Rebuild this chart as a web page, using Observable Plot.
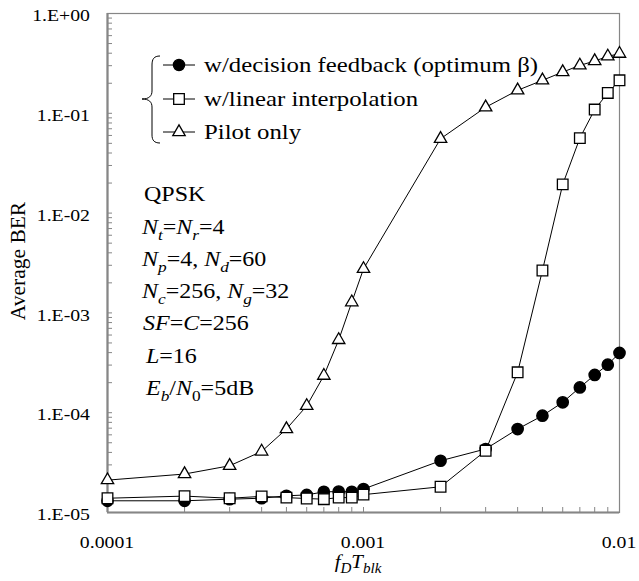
<!DOCTYPE html>
<html><head><meta charset="utf-8">
<script src="https://cdn.jsdelivr.net/npm/d3@7"></script>
<script src="https://cdn.jsdelivr.net/npm/@observablehq/plot@0.6"></script>
<style>body{margin:0;background:#fff} svg{font-family:"Liberation Serif","Times New Roman",serif}</style>
</head><body><div id="chart"></div>
<script>
// ---- data ----
const fdT = [0.0001,0.0002,0.0003,0.0004,0.0005,0.0006,0.0007,0.0008,0.0009,0.001,0.002,0.003,0.004,0.005,0.006,0.007,0.008,0.009,0.01];
const berDecision = [1.31e-5,1.31e-5,1.36e-5,1.39e-5,1.47e-5,1.5e-5,1.61e-5,1.62e-5,1.61e-5,1.72e-5,3.3e-5,4.33e-5,6.86e-5,9.33e-5,1.27e-4,1.79e-4,2.39e-4,3.03e-4,3.97e-4];
const berLinear = [1.39e-5,1.46e-5,1.39e-5,1.45e-5,1.41e-5,1.38e-5,1.36e-5,1.41e-5,1.41e-5,1.51e-5,1.81e-5,4.16e-5,2.54e-4,2.66e-3,1.94e-2,5.64e-2,0.109,0.160,0.214];
const berPilot = [2.11e-5,2.43e-5,2.94e-5,4.09e-5,6.86e-5,1.17e-4,2.35e-4,5.36e-4,1.28e-3,2.76e-3,5.56e-2,0.115,0.170,0.214,0.259,0.302,0.334,0.372,0.396];
const seriesNames = ["w/decision feedback (optimum β)","w/linear interpolation","Pilot only"];
const yTickValues = [1e-5,1e-4,1e-3,1e-2,1e-1,1];
const yTickLabels = ["1.E-05","1.E-04","1.E-03","1.E-02","1.E-01","1.E+00"];
const xTickValues = [0.0001,0.001,0.01];
const xTickLabels = ["0.0001","0.001","0.01"];

const rows = (vals) => fdT.map((x,i)=>({x, y: vals[i]}));
const dec = rows(berDecision), lin = rows(berLinear), pil = rows(berPilot);
const minorY = d3.scaleLog().domain([1e-5,1]).ticks();
const minorX = d3.scaleLog().domain([1e-4,1e-2]).ticks();
const GRAY = "#868686";

const chart = Plot.plot({
  width: 639, height: 581,
  marginLeft: 107, marginRight: 20, marginTop: 13, marginBottom: 69,
  x: {type: "log", domain: [1e-4, 1e-2]},
  y: {type: "log", domain: [1e-5, 1]},
  style: {fontFamily: "Liberation Serif, Times New Roman, serif", fontSize: "17px", color: "#000", background: "#fff"},
  marks: [
    Plot.axisY(minorY, {tickSize: -5, stroke: GRAY, text: null, label: null}),
    Plot.axisX(minorX, {tickSize: -5, stroke: GRAY, text: null, label: null}),
    Plot.frame({stroke: GRAY, strokeWidth: 1.2}),
    Plot.ruleX([1e-4], {stroke: GRAY, strokeWidth: 2.2}),
    Plot.ruleY([1e-5], {stroke: GRAY, strokeWidth: 2.2}),
    Plot.line(dec, {x: "x", y: "y", stroke: "#000", strokeWidth: 1}),
    Plot.dot(dec, {x: "x", y: "y", r: 5.6, fill: "#000", stroke: "#000"}),
    Plot.line(lin, {x: "x", y: "y", stroke: "#000", strokeWidth: 1}),
    Plot.dot(lin, {x: "x", y: "y", symbol: "square", r: 6.0, fill: "#fff", stroke: "#000", strokeWidth: 1.3}),
    Plot.line(pil, {x: "x", y: "y", stroke: "#000", strokeWidth: 1}),
    Plot.dot(pil, {x: "x", y: "y", symbol: "triangle", r: 4.6, fill: "#fff", stroke: "#000", strokeWidth: 1.3})
  ]
});
document.getElementById("chart").appendChild(chart);

const svg = d3.select(chart);
const sx = chart.scale("x"), sy = chart.scale("y");

// rich text helper: parts = [text, {i:italic, sub:subscript}]
function rich(x, y, parts, size, opts = {}) {
  const SX = opts.sx ?? 1.2;
  const t = svg.append("text").attr("x", x).attr("y", y)
    .attr("font-size", size).attr("fill", "#000")
    .attr("text-anchor", opts.anchor || "start");
  if (opts.rotate) t.attr("transform", `rotate(${opts.rotate},${x},${y})`);
  else t.attr("transform", `translate(${x},${y}) scale(${SX},1) translate(${-x},${-y})`);
  let shifted = 0;
  for (const [txt, st = {}] of parts) {
    const ts = t.append("tspan").text(txt);
    if (st.i) ts.attr("font-style", "italic");
    const want = st.sub ? 0.28 * size : 0;
    if (want !== shifted) { ts.attr("dy", want - shifted); shifted = want; }
    if (st.sub) ts.attr("font-size", size * 0.72);
  }
  return t;
}

// tick labels positioned through Plot's scales
yTickValues.forEach((v, i) => rich(90, sy.apply(v) + 8.3, [[yTickLabels[i]]], 17.5, {anchor: "end", sx: 1.13}));
xTickValues.forEach((v, i) => rich(sx.apply(v), 548, [[xTickLabels[i]]], 17.5, {anchor: "middle", sx: 1.13}));

// legend
const legX0 = 163, legX1 = 195, legMX = 179, legTX = 204;
const legY = [65, 99, 132];
const sym = [d3.symbolCircle, d3.symbolSquare, d3.symbolTriangle];
const symR = [5.6, 6.0, 4.6];
const symFill = ["#000", "#fff", "#fff"];
seriesNames.forEach((name, k) => {
  svg.append("line").attr("x1", legX0).attr("x2", legX1).attr("y1", legY[k]).attr("y2", legY[k])
    .attr("stroke", "#000").attr("stroke-width", 1);
  svg.append("path").attr("d", d3.symbol(sym[k], Math.PI * symR[k] * symR[k])())
    .attr("transform", `translate(${legMX},${legY[k]})`)
    .attr("fill", symFill[k]).attr("stroke", "#000").attr("stroke-width", 1.3);
  rich(legTX, legY[k] + 7, [[name]], 20, {sx: 1.24});
});
// brace
svg.append("path")
  .attr("d", "M160,56 C154,56 152,59 152,65 L152,91 C152,96 149,99 142,99 C149,99 152,102 152,107 L152,135 C152,140 154,143 160,143")
  .attr("fill", "none").attr("stroke", "#000").attr("stroke-width", 1);

// annotation
const fs = 20;
rich(144, 201, [["QPSK"]], fs);
rich(142, 234, [["N",{i:1}],["t",{i:1,sub:1}],["="],["N",{i:1}],["r",{i:1,sub:1}],["=4"]], fs);
rich(142, 266, [["N",{i:1}],["p",{i:1,sub:1}],["=4, "],["N",{i:1}],["d",{i:1,sub:1}],["=60"]], fs);
rich(142, 298, [["N",{i:1}],["c",{i:1,sub:1}],["=256, "],["N",{i:1}],["g",{i:1,sub:1}],["=32"]], fs);
rich(143, 330, [["SF",{i:1}],["="],["C",{i:1}],["=256"]], fs);
rich(146, 363, [["L",{i:1}],["=16"]], fs);
rich(146, 395, [["E",{i:1}],["b",{i:1,sub:1}],["/"],["N",{i:1}],["0",{sub:1}],["=5dB"]], fs);

// axis titles
rich(358, 568, [["f",{i:1}],["D",{i:1,sub:1}],["T",{i:1}],["blk",{i:1,sub:1}]], 19, {anchor: "middle", sx: 1.1});
rich(25, 261, [["Average BER"]], 21.5, {anchor: "middle", rotate: -90});
</script></body></html>
